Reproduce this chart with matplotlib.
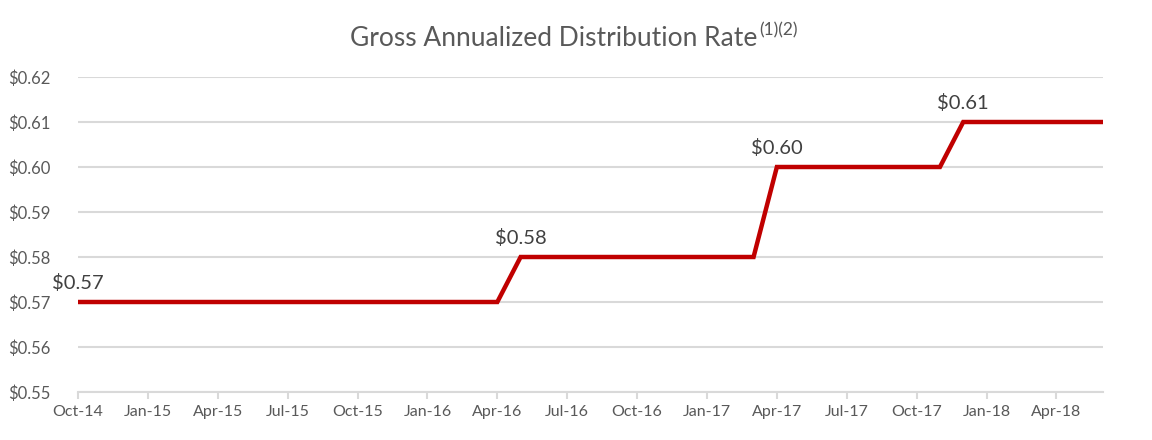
import matplotlib
matplotlib.use('Agg')
import matplotlib.pyplot as plt
import pandas as pd

# monthly gross annualized distribution rate, Oct-14 .. Jun-18
rate = [0.57, 0.57, 0.57, 0.57, 0.57, 0.57, 0.57, 0.57, 0.57, 0.57,
        0.57, 0.57, 0.57, 0.57, 0.57, 0.57, 0.57, 0.57, 0.57,
        0.58, 0.58, 0.58, 0.58, 0.58, 0.58, 0.58, 0.58, 0.58, 0.58, 0.58,
        0.60, 0.60, 0.60, 0.60, 0.60, 0.60, 0.60, 0.60,
        0.61, 0.61, 0.61, 0.61, 0.61, 0.61, 0.61]
start_month = '2014-10-01'
label_months = ['Oct-14', 'May-16', 'Apr-17', 'Dec-17']
y_ticks = [0.55, 0.56, 0.57, 0.58, 0.59, 0.60, 0.61, 0.62]

months = pd.date_range(start_month, periods=len(rate), freq='MS')
month_names = [m.strftime('%b-%y') for m in months]
x = list(range(len(rate)))

plt.rcParams['font.family'] = ['Lato', 'DejaVu Sans']
grey = '#595959'

fig = plt.figure(figsize=(11.52, 4.4), dpi=100)
ax = fig.add_axes([78 / 1152, 1 - 392 / 440, (1103 - 78) / 1152, (392 - 77) / 440])

ax.plot(x, rate, color='#C00000', linewidth=3.2, solid_joinstyle='miter', zorder=3)

for name in label_months:
    i = month_names.index(name)
    ax.annotate('\\$%.2f' % rate[i], (x[i], rate[i]), xytext=(0, 7),
                textcoords='offset points', ha='center', va='bottom',
                fontsize=14.5, color='#404040')

ax.set_xlim(0, len(rate) - 1)
ax.set_ylim(y_ticks[0], y_ticks[-1])
ax.set_yticks(y_ticks)
ax.set_yticklabels(['\\$%.2f' % v for v in y_ticks])
ax.set_xticks(x[::3])
ax.set_xticklabels(month_names[::3])

ax.grid(axis='y', color='#D9D9D9', linewidth=1.5)
ax.set_axisbelow(True)
for side in ['top', 'right', 'left']:
    ax.spines[side].set_visible(False)
ax.spines['bottom'].set_color('#D9D9D9')
ax.spines['bottom'].set_linewidth(1.5)
ax.tick_params(axis='x', colors='#D9D9D9', length=5, width=1.5, labelcolor=grey,
               labelsize=11.5, pad=4)
ax.tick_params(axis='y', length=0, labelcolor=grey, labelsize=12, pad=20)

title = fig.text(554 / 1152, 1 - 38 / 440, 'Gross Annualized Distribution Rate',
                 ha='center', va='center', fontsize=19, color=grey)
fig.canvas.draw()
ax.annotate('(1)(2)', xy=(1, 1), xycoords=title, xytext=(1, 2),
            textcoords='offset points', ha='left', va='top',
            fontsize=12.5, color=grey)

fig.savefig('out.png', dpi=100)
